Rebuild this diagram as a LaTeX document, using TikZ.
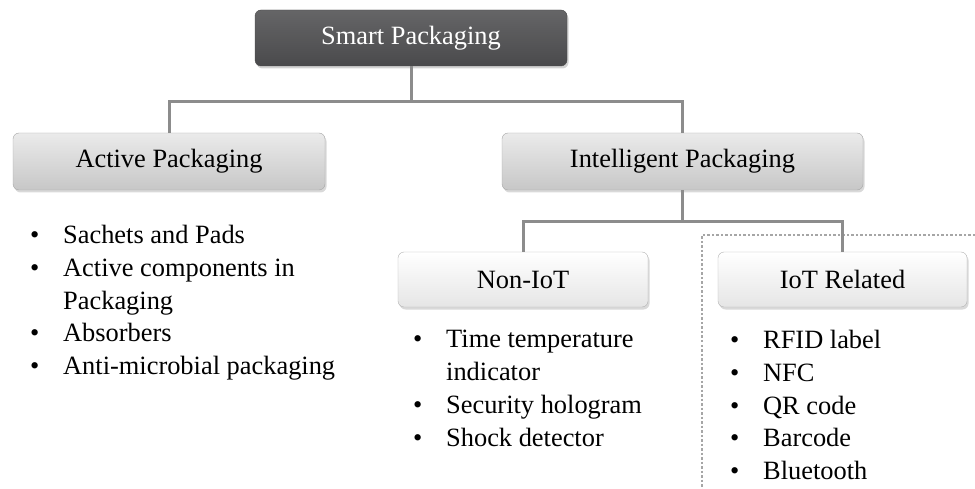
\documentclass[tikz,border=0pt]{standalone}
\usepackage{fontspec}
\setmainfont{Liberation Serif}
\usepackage{xcolor}
\usepackage{tikz}
\usetikzlibrary{positioning, calc, shadows}
\definecolor{boxdark}{HTML}{4A4A4C}
\definecolor{linegray}{HTML}{8C8C8C}
\tikzset{
    topbox/.style={draw=black!70, rounded corners=6pt, top color=boxdark!85, bottom color=boxdark, text=white, minimum height=56pt, drop shadow={shadow xshift=1.5pt, shadow yshift=-2.5pt, opacity=.35}},
    midbox/.style={draw=black!35, rounded corners=6pt, top color=black!8, bottom color=black!22, minimum height=57pt, drop shadow={shadow xshift=1.5pt, shadow yshift=-2.5pt, opacity=.3}},
    lowbox/.style={draw=black!30, rounded corners=6pt, top color=white, bottom color=black!10, minimum height=55pt, drop shadow={shadow xshift=1.5pt, shadow yshift=-2.5pt, opacity=.3}},
    link/.style={draw=linegray, line width=3pt},
    itemlist/.style={anchor=north west, inner sep=0pt, align=left}
}
\newcommand{\itm}{\makebox[33pt][l]{\textbullet}}
\newcommand{\nobul}{\hspace*{33pt}}

\begin{document}
\begin{tikzpicture}[x=1pt, y=-1pt, font=\fontsize{26.4}{32.8}\selectfont]
    \useasboundingbox (0,0) rectangle (975,489);

    % Cornice tratteggiata (IoT)
    \draw[black!35, line width=1.6pt, dash pattern=on 2.5pt off 2pt] (975,235) -- (702,235) -- (702,489);

    % Riquadri
    \node[topbox, minimum width=312pt] (smart) at (411,38) {Smart Packaging};
    \node[midbox, minimum width=312pt] (active) at (169,161.5) {Active Packaging};
    \node[midbox, minimum width=361pt] (intel) at (682.5,161.5) {Intelligent Packaging};
    \node[lowbox, minimum width=250pt] (noniot) at (523,279.5) {Non-IoT};
    \node[lowbox, minimum width=249pt] (iot) at (842.5,279.5) {IoT Related};

    % Collegamenti
    \coordinate (split1) at (smart.south |- 0,102);
    \coordinate (split2) at (intel.south |- 0,222);
    \draw[link] (smart.south) -- (split1);
    \draw[link] (active.north) |- (split1) -| (intel.north);
    \draw[link] (intel.south) -- (split2);
    \draw[link] (noniot.north) |- (split2) -| (iot.north);

    % Elenchi
    \node[itemlist] (activelist) at (30,225) {\itm Sachets and Pads\\ \itm Active components in\\ \nobul Packaging\\ \itm Absorbers\\ \itm Anti-microbial packaging};
    \node[itemlist] (noniotlist) at (413,330) {\itm Time temperature\\ \nobul indicator\\ \itm Security hologram\\ \itm Shock detector};
    \node[itemlist] (iotlist) at (730,330) {\itm RFID label\\ \itm NFC\\ \itm QR code\\ \itm Barcode\\ \itm Bluetooth};
\end{tikzpicture}
\end{document}
